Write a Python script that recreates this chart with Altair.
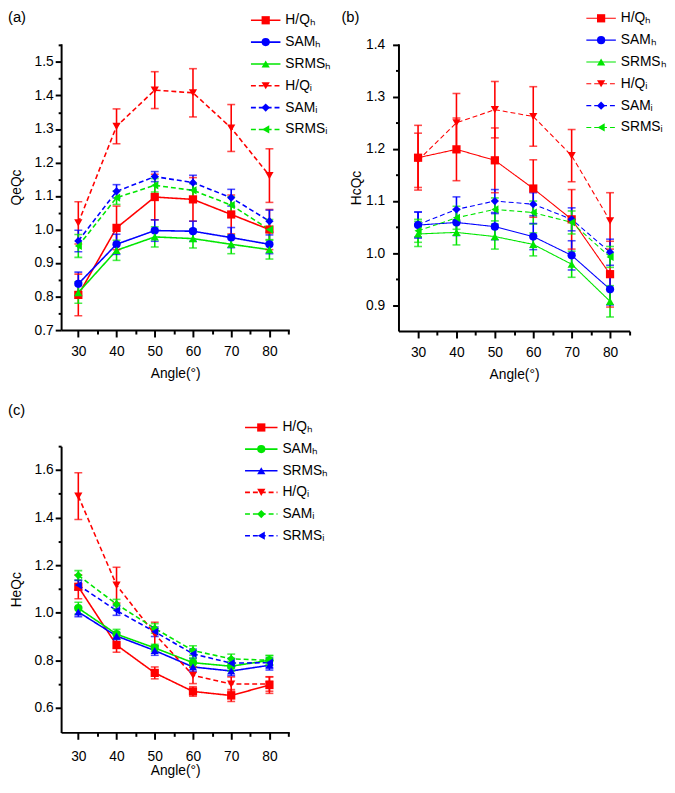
import altair as alt
import pandas as pd

angles = [30, 40, 50, 60, 70, 80]
minor_x = [35, 45, 55, 65, 75, 85]
series_keys = ["HQh", "SAMh", "SRMSh", "HQi", "SAMi", "SRMSi"]
series_labels = ["H/Qₕ", "SAMₕ", "SRMSₕ", "H/Qᵢ", "SAMᵢ", "SRMSᵢ"]

# ---- Panel (a): QeQc ----
a_vals = {
    "HQh":   [0.805, 1.005, 1.097, 1.090, 1.045, 1.000],
    "SAMh":  [0.838, 0.956, 0.997, 0.995, 0.976, 0.956],
    "SRMSh": [0.812, 0.938, 0.978, 0.973, 0.956, 0.940],
    "HQi":   [1.020, 1.308, 1.416, 1.408, 1.303, 1.161],
    "SAMi":  [0.966, 1.114, 1.158, 1.140, 1.095, 1.025],
    "SRMSi": [0.951, 1.095, 1.132, 1.117, 1.073, 1.000],
}
a_errs = {
    "HQh":   [0.062, 0.065, 0.068, 0.065, 0.058, 0.060],
    "SAMh":  [0.035, 0.030, 0.032, 0.030, 0.030, 0.028],
    "SRMSh": [0.032, 0.030, 0.030, 0.028, 0.028, 0.028],
    "HQi":   [0.063, 0.052, 0.055, 0.072, 0.070, 0.080],
    "SAMi":  [0.032, 0.020, 0.015, 0.022, 0.025, 0.033],
    "SRMSi": [0.034, 0.020, 0.020, 0.020, 0.025, 0.030],
}

# ---- Panel (b): HcQc ----
b_vals = {
    "HQh":   [1.183, 1.199, 1.178, 1.124, 1.065, 0.960],
    "SAMh":  [1.054, 1.059, 1.051, 1.032, 0.996, 0.931],
    "SRMSh": [1.037, 1.040, 1.032, 1.017, 0.979, 0.908],
    "HQi":   [1.178, 1.250, 1.275, 1.262, 1.187, 1.062],
    "SAMi":  [1.055, 1.084, 1.100, 1.094, 1.065, 1.002],
    "SRMSi": [1.043, 1.068, 1.084, 1.078, 1.059, 0.993],
}
b_errs = {
    "HQh":   [0.062, 0.060, 0.062, 0.055, 0.057, 0.063],
    "SAMh":  [0.025, 0.025, 0.025, 0.025, 0.028, 0.030],
    "SRMSh": [0.024, 0.024, 0.024, 0.022, 0.025, 0.030],
    "HQi":   [0.052, 0.056, 0.054, 0.057, 0.050, 0.054],
    "SAMi":  [0.024, 0.024, 0.022, 0.022, 0.022, 0.025],
    "SRMSi": [0.022, 0.022, 0.022, 0.022, 0.022, 0.020],
}

# ---- Panel (c): HeQc ----
c_vals = {
    "HQh":   [1.109, 0.864, 0.747, 0.669, 0.652, 0.696],
    "SAMh":  [1.019, 0.910, 0.852, 0.790, 0.775, 0.800],
    "SRMSh": [1.003, 0.902, 0.841, 0.772, 0.755, 0.779],
    "HQi":   [1.490, 1.116, 0.910, 0.737, 0.700, 0.700],
    "SAMi":  [1.157, 1.036, 0.934, 0.841, 0.806, 0.800],
    "SRMSi": [1.116, 1.009, 0.920, 0.827, 0.788, 0.790],
}
c_errs = {
    "HQh":   [0.050, 0.030, 0.025, 0.020, 0.025, 0.035],
    "SAMh":  [0.025, 0.020, 0.015, 0.020, 0.020, 0.020],
    "SRMSh": [0.020, 0.015, 0.020, 0.020, 0.020, 0.020],
    "HQi":   [0.098, 0.075, 0.050, 0.035, 0.030, 0.030],
    "SAMi":  [0.020, 0.020, 0.020, 0.020, 0.020, 0.020],
    "SRMSi": [0.020, 0.020, 0.020, 0.020, 0.020, 0.020],
}

FONT = "Liberation Sans"
RED, BLUE, GREEN = "#FF0000", "#0000FF", "#00E600"
SHAPES = ["square", "circle", "triangle-up", "triangle-down", "diamond", "triangle-left"]
DASHES = [[1, 0], [1, 0], [1, 0], [5, 3], [5, 3], [5, 3]]


def make_panel(vals, errs, colors, xdom, ydom, yticks, yminor, ytitle, w, h,
               ytickpad, ytitlepad, xlabpad, xtitlepad, leg_x, leg_y, title_text,
               title_dx, title_dy, title_offset, lw):
    rows = []
    for k in series_keys:
        for ang, v, e in zip(angles, vals[k], errs[k]):
            rows.append({"angle": ang, "value": v, "lo": v - e, "hi": v + e, "series": k})
    df = pd.DataFrame(rows)
    base = alt.Chart(df)
    xs = alt.Scale(domain=xdom, nice=False, zero=False)
    ys = alt.Scale(domain=ydom, nice=False, zero=False)
    color = alt.Color("series:N", scale=alt.Scale(domain=series_keys, range=colors), legend=None)
    shape = alt.Shape("series:N", scale=alt.Scale(domain=series_keys, range=SHAPES), legend=None)
    dash = alt.StrokeDash("series:N", scale=alt.Scale(domain=series_keys, range=DASHES), legend=None)

    ax_major_x = alt.Axis(values=angles, orient="bottom", title="Angle(°)", tickSize=7,
                          labelPadding=xlabpad, titlePadding=xtitlepad, format="d")
    ax_minor_x = alt.Axis(values=minor_x, orient="bottom", title=None, labels=False,
                          tickSize=4, domain=False)
    ax_major_y = alt.Axis(values=yticks, orient="left", title=ytitle, format=".1f",
                          tickSize=6, labelPadding=ytickpad, titlePadding=ytitlepad)
    ax_minor_y = alt.Axis(values=yminor, orient="left", title=None, labels=False,
                          tickSize=3, domain=False)

    lines = base.mark_line(strokeWidth=lw).encode(
        x=alt.X("angle:Q", scale=xs, axis=ax_major_x),
        y=alt.Y("value:Q", scale=ys, axis=ax_major_y),
        color=color, strokeDash=dash, detail="series:N")
    rules = base.mark_rule(strokeWidth=1.6).encode(
        x=alt.X("angle:Q", scale=xs, axis=None),
        y=alt.Y("lo:Q", scale=ys, axis=None), y2="hi:Q", color=color)
    caps_lo = base.mark_tick(orient="horizontal", size=8, thickness=1.6).encode(
        x=alt.X("angle:Q", scale=xs, axis=None),
        y=alt.Y("lo:Q", scale=ys, axis=None), color=color)
    caps_hi = base.mark_tick(orient="horizontal", size=8, thickness=1.6).encode(
        x=alt.X("angle:Q", scale=xs, axis=None),
        y=alt.Y("hi:Q", scale=ys, axis=None), color=color)
    points = base.mark_point(filled=True, size=70, opacity=1).encode(
        x=alt.X("angle:Q", scale=xs, axis=ax_minor_x),
        y=alt.Y("value:Q", scale=ys, axis=ax_minor_y),
        color=color, shape=shape)
    main = alt.layer(lines, rules, caps_lo, caps_hi, points).resolve_axis(
        x="independent", y="independent")

    ldf = pd.DataFrame({"series": series_keys, "label": series_labels})
    lb = alt.Chart(ldf)
    lx = alt.Scale(domain=[0, 1], range=leg_x)
    ly = alt.Y("series:N", scale=alt.Scale(type="point", domain=series_keys, range=leg_y, padding=0), axis=None)
    l_line = lb.mark_rule(strokeWidth=lw).encode(
        x=alt.X(datum=0, type="quantitative", scale=lx, axis=None), x2=alt.X2(datum=1),
        y=ly, color=color, strokeDash=dash)
    l_pt = lb.mark_point(filled=True, size=70, opacity=1).encode(
        x=alt.X(datum=0.5, type="quantitative", scale=lx, axis=None), y=ly,
        color=color, shape=shape)
    l_tx = lb.mark_text(align="left", baseline="middle", dx=5, fontSize=14, font=FONT,
                        color="black").encode(
        x=alt.X(datum=1, type="quantitative", scale=lx, axis=None), y=ly, text="label:N")
    legend = alt.layer(l_line, l_pt, l_tx)

    return alt.layer(main, legend).resolve_scale(x="independent", y="independent").properties(
        width=w, height=h,
        title=alt.Title(title_text, anchor="start", frame="group", dx=title_dx, dy=title_dy,
                        offset=title_offset, fontSize=15, fontWeight="normal", font=FONT,
                        color="black"))


pa = make_panel(a_vals, a_errs, [RED, BLUE, GREEN, RED, BLUE, GREEN],
                [25.5, 85.2], [0.7, 1.554],
                [0.7, 0.8, 0.9, 1.0, 1.1, 1.2, 1.3, 1.4, 1.5],
                [0.75, 0.85, 0.95, 1.05, 1.15, 1.25, 1.35, 1.45, 1.55],
                "QeQc", 232, 291, 2, 11, 8, 8, [193, 223], [-24, 87], "(a)", -54, 12, 0, 1.6)
pb = make_panel(b_vals, b_errs, [RED, BLUE, GREEN, RED, BLUE, GREEN],
                [24.9, 85.1], [0.851, 1.401],
                [0.9, 1.0, 1.1, 1.2, 1.3, 1.4],
                [0.95, 1.05, 1.15, 1.25, 1.35],
                "HcQc", 235, 292, 8, 2, 8, 8, [191, 221], [-26, 85], "(b)", -58, 14, 0, 1.1)
pc = make_panel(c_vals, c_errs, [RED, GREEN, BLUE, RED, GREEN, BLUE],
                [25.5, 85.2], [0.497, 1.7],
                [0.6, 0.8, 1.0, 1.2, 1.4, 1.6],
                [0.7, 0.9, 1.1, 1.3, 1.5, 1.7],
                "HeQc", 232, 291, 2, 11, 11, 0, [187, 220], [-19, 91], "(c)", -54, 3, 6, 1.6)

chart = alt.concat(pa, pb, pc, columns=2, spacing={"row": 117, "column": 111},
                   bounds="flush").resolve_scale(
    color="independent", shape="independent", strokeDash="independent"
).properties(
    padding={"left": 0, "top": -4, "right": 0, "bottom": 0}
).configure_view(stroke=None).configure_axis(
    grid=False, domainColor="black", domainWidth=2, tickColor="black", tickWidth=2,
    labelFont=FONT, labelFontSize=14, labelColor="black",
    titleFont=FONT, titleFontSize=14, titleFontWeight="normal", titleColor="black")

chart.save("out.html", embed_options={"renderer": "svg", "actions": False})
